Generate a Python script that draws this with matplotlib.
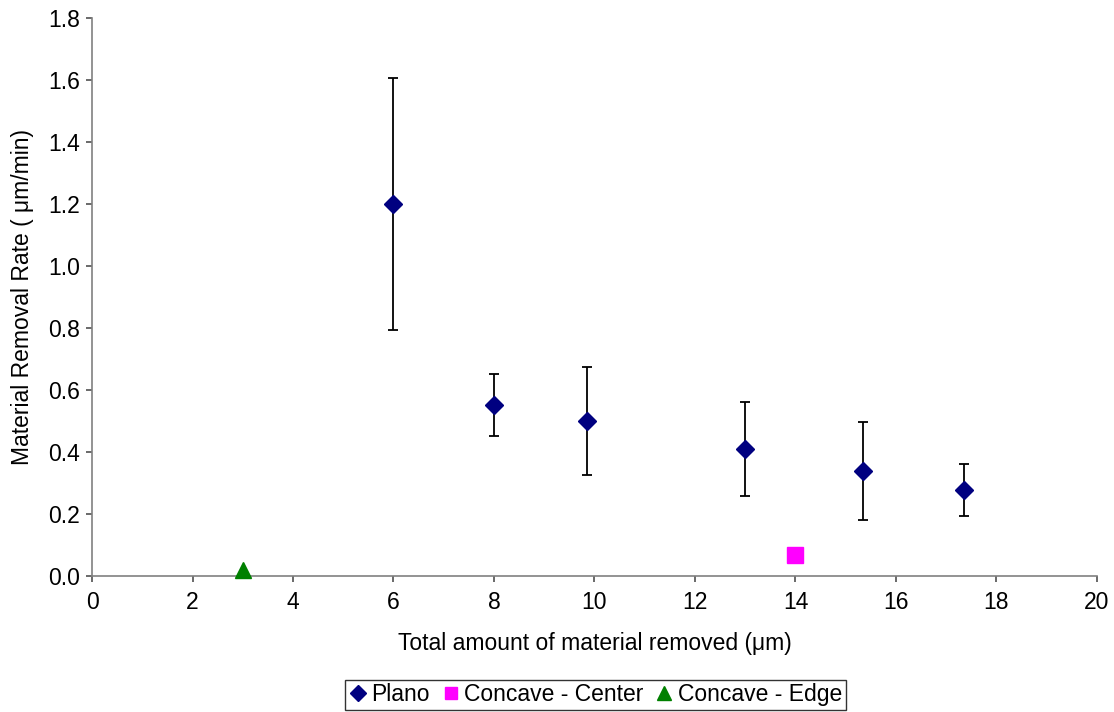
import matplotlib.pyplot as plt

plt.rcParams['font.family'] = ['Liberation Sans', 'DejaVu Sans']

# Plano samples (with error bars)
plano_x = [6, 8, 9.86, 13, 15.35, 17.35]
plano_y = [1.20, 0.552, 0.501, 0.410, 0.339, 0.277]
plano_err = [0.405, 0.10, 0.174, 0.151, 0.158, 0.083]

# Concave samples
center_x = [14]
center_y = [0.067]
edge_x = [3]
edge_y = [0.02]

xticks = [0, 2, 4, 6, 8, 10, 12, 14, 16, 18, 20]
yticks = [0.0, 0.2, 0.4, 0.6, 0.8, 1.0, 1.2, 1.4, 1.6, 1.8]

fig = plt.figure(figsize=(11.14, 7.12), dpi=100)
ax = fig.add_axes([0.0826, 0.191, 0.9021, 0.7837])

ax.errorbar(plano_x, plano_y, yerr=plano_err, fmt='none', ecolor='black',
            elinewidth=1.3, capsize=3.6, capthick=1.3, zorder=2)
ax.plot(plano_x, plano_y, 'D', color='#000080', markersize=9, label='Plano', zorder=3)
ax.plot(center_x, center_y, 's', color='#FF00FF', markersize=11,
        label='Concave - Center', zorder=3)
ax.plot(edge_x, edge_y, '^', color='#008000', markersize=11.5,
        label='Concave - Edge', zorder=3, clip_on=False)

ax.set_xlim(0, 20)
ax.set_ylim(0, 1.8)
ax.set_xticks(xticks)
ax.set_yticks(yticks)
ax.set_xticklabels([str(v) for v in xticks])
ax.set_yticklabels([f'{v:.1f}' for v in yticks])

for s in ['top', 'right']:
    ax.spines[s].set_visible(False)
for s in ['left', 'bottom']:
    ax.spines[s].set_color('#808080')
    ax.spines[s].set_linewidth(1.2)
ax.tick_params(direction='out', length=4.5, width=1.2, color='#505050',
               labelsize=16.5)
ax.tick_params(axis='x', pad=6)
ax.tick_params(axis='y', pad=4)

ax.set_xlabel('Total amount of material removed (μm)', fontsize=16.5, labelpad=13)
ax.set_ylabel('Material Removal Rate ( μm/min)', fontsize=16.5, labelpad=10)

leg = fig.legend(loc='center', bbox_to_anchor=(0.5346, 0.024), ncol=3, fontsize=16.5,
                 frameon=True, fancybox=False, edgecolor='black', handlelength=0.8,
                 handletextpad=0.2, columnspacing=0.5, borderpad=0.15, markerscale=0.85)
leg.get_frame().set_linewidth(1.0)

fig.savefig('out.png', dpi=100)
